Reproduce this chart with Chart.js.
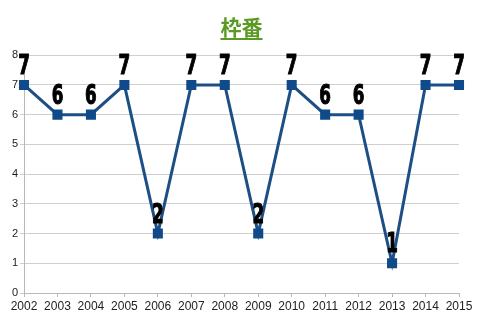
<!DOCTYPE html>
<html>
<head>
<meta charset="utf-8">
<script src="https://cdn.jsdelivr.net/npm/chart.js@4"></script>
<style>
  body { margin: 0; background: #fff; }
  #wrap { width: 480px; height: 320px; }
</style>
</head>
<body>
<div id="wrap"><canvas id="chartWaku"></canvas></div>
<script>
var years = ['2002', '2003', '2004', '2005', '2006', '2007', '2008', '2009', '2010', '2011', '2012', '2013', '2014', '2015'];
var waku = [7, 6, 6, 7, 2, 7, 7, 2, 7, 6, 6, 1, 7, 7];
var titleText = '枠番';

// draws the big number above each point, and the title underline
var pointLabels = {
  id: 'pointLabels',
  afterLayout: function (chart) {
    // center the title over the plot area, not the whole canvas
    var t = chart.titleBlock;
    if (t) {
      t.left = chart.chartArea.left;
      t.right = chart.chartArea.right;
    }
  },
  afterDatasetsDraw: function (chart) {
    var ctx = chart.ctx;
    var meta = chart.getDatasetMeta(0);
    ctx.save();
    ctx.fillStyle = '#000';
    ctx.strokeStyle = '#000';
    ctx.lineWidth = 1.2;
    ctx.font = 'bold 27px "DejaVu Sans", sans-serif';
    ctx.textAlign = 'center';
    ctx.textBaseline = 'alphabetic';
    meta.data.forEach(function (pt, i) {
      ctx.save();
      ctx.translate(pt.x, pt.y - 11);
      ctx.scale(0.62, 1);
      ctx.fillText(String(waku[i]), 0, 0);
      ctx.strokeText(String(waku[i]), 0, 0);
      ctx.restore();
    });
    ctx.restore();
  },
  afterDraw: function (chart) {
    var t = chart.titleBlock;
    if (!t) return;
    var ctx = chart.ctx;
    ctx.save();
    ctx.font = 'bold 21px "Noto Sans CJK JP", sans-serif';
    var w = ctx.measureText(titleText).width;
    var cx = (t.left + t.right) / 2;
    ctx.strokeStyle = '#5b9a22';
    ctx.lineWidth = 2;
    ctx.beginPath();
    ctx.moveTo(cx - w / 2, 39);
    ctx.lineTo(cx + w / 2, 39);
    ctx.stroke();
    ctx.restore();
  }
};

var ctx = document.getElementById('chartWaku');
var chartWaku = new Chart(ctx, {
  type: 'line',
  plugins: [pointLabels],
  data: {
    labels: years,
    datasets: [{
      data: waku,
      borderColor: '#1d4f85',
      borderWidth: 3,
      backgroundColor: '#0f4a8a',
      pointStyle: 'rect',
      pointRadius: 5,
      pointBorderColor: '#0f4a8a',
      tension: 0
    }]
  },
  options: {
    responsive: true,
    maintainAspectRatio: false,
    animation: false,
    layout: {
      padding: { left: 0, right: 21, top: 0, bottom: 0 }
    },
    plugins: {
      legend: { display: false },
      tooltip: { enabled: false },
      title: {
        display: true,
        text: titleText,
        color: '#5b9a22',
        font: { family: '"Noto Sans CJK JP", sans-serif', size: 21, weight: 'bold' },
        padding: { top: 14, bottom: 16 }
      }
    },
    scales: {
      x: {
        offset: false,
        afterFit: function (scale) { scale.height = 27; },
        grid: {
          display: true,
          drawOnChartArea: false,
          drawTicks: true,
          tickLength: 4,
          color: '#b8b8b8'
        },
        border: { color: '#b8b8b8' },
        ticks: {
          color: '#222',
          font: { family: 'Liberation Sans', size: 12 },
          maxRotation: 0,
          autoSkip: false,
          padding: 2
        }
      },
      y: {
        min: 0,
        max: 8,
        afterFit: function (scale) { scale.width = 24; },
        grid: {
          color: '#cfcfcf',
          drawTicks: true,
          tickLength: 4
        },
        border: { color: '#b8b8b8' },
        ticks: {
          stepSize: 1,
          color: '#222',
          font: { family: 'Liberation Sans', size: 11 },
          padding: 2
        }
      }
    }
  }
});
</script>
</body>
</html>
